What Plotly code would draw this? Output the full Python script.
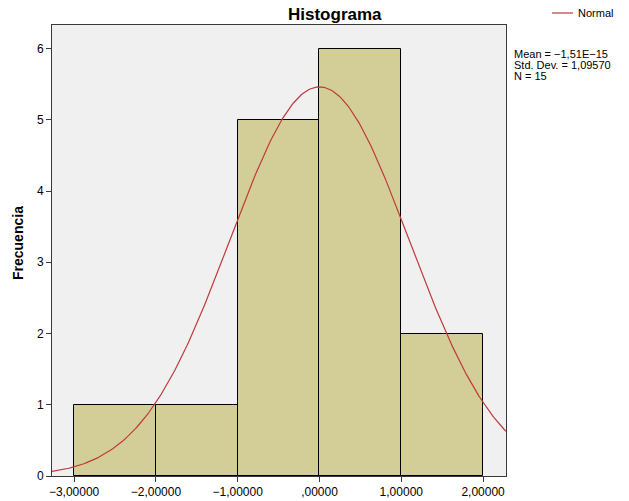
import numpy as np
import plotly.graph_objects as go

# Data
bin_centers = [-2.5, -1.5, -0.5, 0.5, 1.5]
counts = [1, 1, 5, 6, 2]
bin_width = 1.0
tick_vals = [-3, -2, -1, 0, 1, 2]
tick_text = ["\u22123,00000", "\u22122,00000", "\u22121,00000", ",00000", "1,00000", "2,00000"]
mean_val = -1.51e-15
std_val = 1.09570
n_val = 15
stats_lines = ["Mean = \u22121,51E\u221215", "Std. Dev. = 1,09570", "N = 15"]

x_range = [-3.27, 2.28]
y_range = [0, 6.33]

# Normal curve fitted from reported statistics
xc = np.linspace(x_range[0], x_range[1], 300)
yc = n_val * bin_width / (std_val * np.sqrt(2 * np.pi)) * np.exp(-0.5 * ((xc - mean_val) / std_val) ** 2)

W, H = 629, 501
L, R, T, B = 52, 506, 25, 476

def px(x):
    return (x - L) / (R - L)

def py(y):
    return (B - y) / (B - T)

fig = go.Figure()
fig.add_trace(go.Bar(
    x=bin_centers, y=counts, width=[bin_width] * len(counts),
    marker=dict(color="#D3CE98", line=dict(color="#000000", width=1)),
    showlegend=False, hoverinfo="skip"))
fig.add_trace(go.Scatter(
    x=xc, y=yc, mode="lines", line=dict(color="#C0393B", width=1.2),
    showlegend=False, hoverinfo="skip"))

font_main = "Liberation Sans"
fig.update_layout(
    width=W, height=H,
    margin=dict(l=L, r=W - R, t=T, b=H - B),
    paper_bgcolor="white", plot_bgcolor="#F0F0F0",
    bargap=0,
    font=dict(family=font_main, size=12, color="#000000"),
    xaxis=dict(range=x_range, tickvals=tick_vals, ticktext=tick_text, automargin=False,
               showgrid=False, zeroline=False, showline=True, mirror=True,
               linecolor="#3A3A3A", linewidth=1, ticks="outside", ticklen=5,
               tickcolor="#3A3A3A", tickfont=dict(size=12)),
    yaxis=dict(range=y_range, tickvals=[0, 1, 2, 3, 4, 5, 6], automargin=False,
               showgrid=False, zeroline=False, showline=True, mirror=True,
               linecolor="#3A3A3A", linewidth=1, ticks="outside", ticklen=5,
               tickcolor="#3A3A3A", tickfont=dict(size=12)),
)

# Y axis title
fig.add_annotation(text="<b>Frecuencia</b>", xref="paper", yref="paper",
                   x=px(18), y=py(243), showarrow=False, textangle=-90,
                   font=dict(size=14, family=font_main), xanchor="center", yanchor="middle")

# Title
fig.add_annotation(text="<b>Histograma</b>", xref="paper", yref="paper",
                   x=px(335), y=py(15), showarrow=False,
                   font=dict(size=17, family=font_main), xanchor="center", yanchor="middle")

# Legend
fig.add_shape(type="line", xref="paper", yref="paper",
              x0=px(552), x1=px(573), y0=py(13), y1=py(13),
              line=dict(color="#C0393B", width=1.2))
fig.add_annotation(text="Normal", xref="paper", yref="paper",
                   x=px(576), y=py(13), showarrow=False, xanchor="left", yanchor="middle",
                   font=dict(size=11, family=font_main))

# Stats text
for line, yy in zip(stats_lines, [54, 65, 76]):
    fig.add_annotation(text=line, xref="paper", yref="paper",
                       x=px(512), y=py(yy), showarrow=False, xanchor="left", yanchor="middle",
                       align="left", font=dict(size=11, family=font_main))

fig.write_html("out.html")
